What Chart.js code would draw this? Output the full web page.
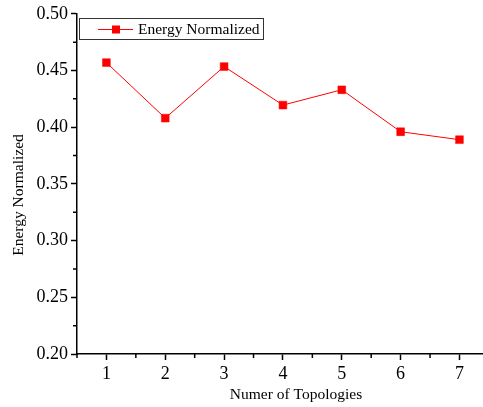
<!DOCTYPE html>
<html>
<head>
<meta charset="utf-8">
<script src="https://cdn.jsdelivr.net/npm/chart.js@4/dist/chart.umd.min.js"></script>
<style>
  html, body { margin: 0; padding: 0; background: #fff; overflow: hidden; }
  #wrap { position: relative; width: 483px; height: 407px; }
</style>
</head>
<body>
<div id="wrap"><canvas id="c"></canvas></div>
<script>
// data
const topologies = [1, 2, 3, 4, 5, 6, 7];
const energyNormalized = [0.457, 0.408, 0.4535, 0.4195, 0.433, 0.396, 0.389];
const seriesLabel = 'Energy Normalized';
const yTicks = [0.20, 0.25, 0.30, 0.35, 0.40, 0.45, 0.50];
const xTitle = 'Numer of Topologies';
const yTitle = 'Energy Normalized';

const FONT = '"Liberation Serif", "Times New Roman", serif';
const RED = '#ff0000';

// minor ticks, inset legend and axis titles (Origin style)
const originPlugin = {
  id: 'origin',
  afterDraw(chart) {
    const { ctx, chartArea: a, scales: { x, y } } = chart;
    ctx.save();
    ctx.strokeStyle = '#000';
    ctx.lineWidth = 1.5;
    ctx.beginPath();
    for (let i = 0; i < topologies.length + 1; i++) {
      const px = x.getPixelForValue(topologies[0] - 0.5 + i);
      if (px > a.right + 1) continue;
      ctx.moveTo(px, a.bottom);
      ctx.lineTo(px, a.bottom + 4);
    }
    for (let i = 0; i < yTicks.length - 1; i++) {
      const py = y.getPixelForValue((yTicks[i] + yTicks[i + 1]) / 2);
      ctx.moveTo(a.left, py);
      ctx.lineTo(a.left - 4, py);
    }
    ctx.stroke();

    // legend box
    ctx.lineWidth = 1;
    ctx.strokeStyle = '#333';
    ctx.strokeRect(79.5, 18.5, 184, 21);
    ctx.strokeStyle = RED;
    ctx.beginPath();
    ctx.moveTo(98, 29.5);
    ctx.lineTo(133, 29.5);
    ctx.stroke();
    ctx.fillStyle = RED;
    ctx.fillRect(112, 25.5, 8, 8);
    ctx.fillStyle = '#000';
    ctx.font = '15.5px ' + FONT;
    ctx.textBaseline = 'middle';
    ctx.textAlign = 'left';
    ctx.fillText(chart.data.datasets[0].label, 138, 30);

    // axis titles
    ctx.font = '15.5px ' + FONT;
    ctx.textAlign = 'center';
    ctx.fillText(xTitle, 296, 395);
    ctx.translate(19, 195);
    ctx.rotate(-Math.PI / 2);
    ctx.fillText(yTitle, 0, 0);
    ctx.restore();
  }
};

new Chart(document.getElementById('c'), {
  type: 'line',
  data: {
    datasets: [{
      label: seriesLabel,
      data: topologies.map((t, i) => ({ x: t, y: energyNormalized[i] })),
      borderColor: RED,
      backgroundColor: RED,
      borderWidth: 1,
      pointStyle: 'rect',
      pointRadius: 5.5,
      pointBorderWidth: 0.5,
      pointBackgroundColor: RED,
      pointBorderColor: RED,
      tension: 0,
    }],
  },
  options: {
    responsive: true,
    maintainAspectRatio: false,
    animation: false,
    layout: { autoPadding: false, padding: { top: 13, right: 0, bottom: 0, left: 0 } },
    plugins: {
      legend: { display: false },
      tooltip: { enabled: false },
    },
    scales: {
      x: {
        type: 'linear',
        min: 0.5,
        max: 7.4,
        afterBuildTicks: (s) => { s.ticks = topologies.map(v => ({ value: v })); },
        afterFit: (s) => { s.height = 53; s.paddingLeft = 0; s.paddingRight = 0; },
        grid: { drawOnChartArea: false, drawTicks: true, tickLength: 6, tickColor: '#000', tickWidth: 1.5 },
        border: { display: true, color: '#000', width: 1.5 },
        ticks: { color: '#000', padding: 3, font: { family: FONT, size: 18 }, maxRotation: 0 },
      },
      y: {
        min: 0.2,
        max: 0.5,
        afterBuildTicks: (s) => { s.ticks = yTicks.map(v => ({ value: v })); },
        afterFit: (s) => { s.width = 77; },
        grid: { drawOnChartArea: false, drawTicks: true, tickLength: 6, tickColor: '#000', tickWidth: 1.5 },
        border: { display: true, color: '#000', width: 1.5 },
        ticks: { color: '#000', padding: 3, font: { family: FONT, size: 18 }, callback: (v) => v.toFixed(2) },
      },
    },
  },
  plugins: [originPlugin],
});
</script>
</body>
</html>
